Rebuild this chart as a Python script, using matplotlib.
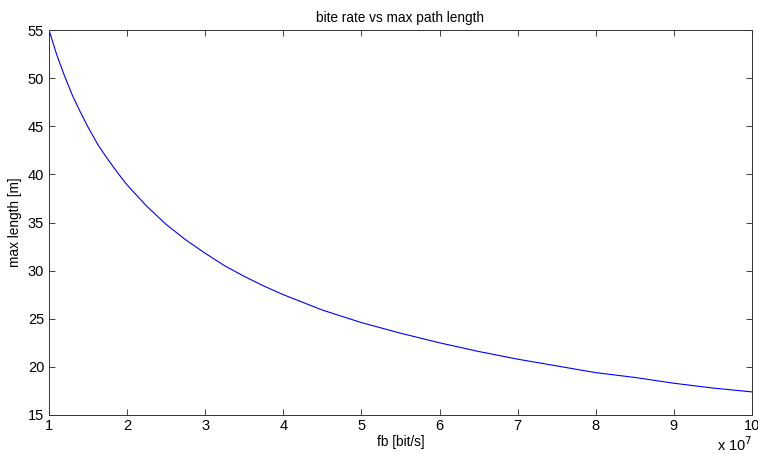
import matplotlib
matplotlib.use("Agg")
import matplotlib.pyplot as plt

plt.rcParams["font.family"] = ["Liberation Sans", "DejaVu Sans"]

# bit rate (x 1e7 bit/s) vs max path length (m)
fb = [1.0, 1.1, 1.2, 1.3, 1.4, 1.5, 1.625, 1.75, 1.875, 2.0, 2.25, 2.5, 2.75,
      3.0, 3.25, 3.5, 3.75, 4.0, 4.5, 5.0, 5.5, 6.0, 6.5, 7.0, 7.5, 8.0,
      8.5, 9.0, 9.5, 10.0]
max_len = [55.0, 52.4, 50.2, 48.2, 46.5, 44.9, 43.1, 41.6, 40.2, 38.9, 36.7,
           34.8, 33.2, 31.8, 30.5, 29.4, 28.4, 27.5, 25.9, 24.6, 23.5, 22.5,
           21.6, 20.8, 20.1, 19.4, 18.9, 18.3, 17.8, 17.4]

x_ticks = [1, 2, 3, 4, 5, 6, 7, 8, 9, 10]
y_ticks = [15, 20, 25, 30, 35, 40, 45, 50, 55]

fig = plt.figure(figsize=(7.58, 4.54), dpi=100)
fig.patch.set_facecolor("white")
ax = fig.add_axes([49 / 758, 1 - 415 / 454, (752 - 49) / 758, (415 - 30) / 454])

ax.plot(fb, max_len, color="#0000ff", linewidth=0.8)

ax.set_xlim(1, 10)
ax.set_ylim(15, 55)
ax.set_xticks(x_ticks)
ax.set_yticks(y_ticks)
ax.tick_params(direction="in", top=True, right=True, length=4, width=0.6,
               labelsize=10.5, colors="#222222", labelcolor="black")
ax.tick_params(axis="x", pad=3)
for s in ax.spines.values():
    s.set_color("#333333")
    s.set_linewidth(0.7)

ax.set_title("bite rate vs max path length", fontsize=9.8, pad=6)
ax.set_xlabel("fb [bit/s]", fontsize=9.8, labelpad=1)
ax.set_ylabel("max length [m]", fontsize=9.8, labelpad=4)

ax.text(1.0, -0.094, r"x 10$^7$", transform=ax.transAxes, ha="right",
        va="baseline", fontsize=10.5)

fig.savefig("out.png", dpi=100, facecolor="white")
